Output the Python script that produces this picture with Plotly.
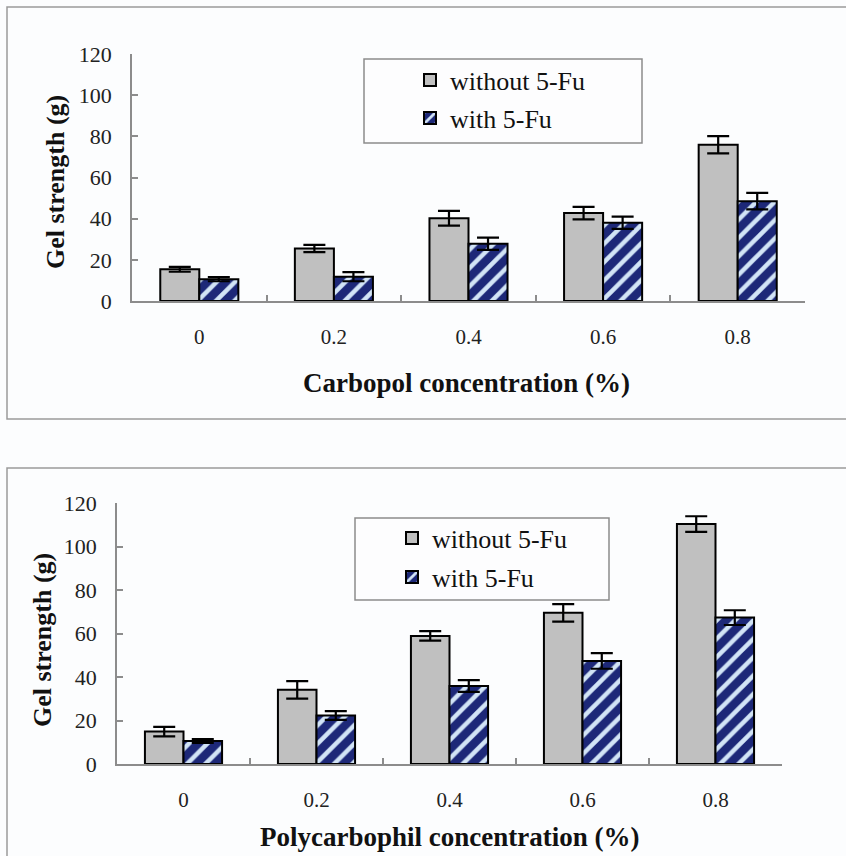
import plotly.graph_objects as go

W, H = 846, 856

categories = ["0", "0.2", "0.4", "0.6", "0.8"]
y_ticks = [0, 20, 40, 60, 80, 100, 120]

carbopol_without = [15.4, 25.5, 40.2, 42.7, 75.9]
carbopol_without_err = [1.2, 1.8, 3.6, 3.0, 4.2]
carbopol_with = [10.6, 11.8, 27.8, 38.0, 48.5]
carbopol_with_err = [1.0, 2.2, 3.0, 3.0, 4.0]

poly_without = [14.9, 34.1, 58.9, 69.5, 110.3]
poly_without_err = [2.2, 4.0, 2.2, 4.0, 3.6]
poly_with = [10.6, 22.3, 35.9, 47.4, 67.3]
poly_with_err = [0.9, 2.0, 2.7, 3.6, 3.4]

series_names = ["without 5-Fu", "with 5-Fu"]
x_titles = ["Carbopol concentration (%)", "Polycarbophil concentration (%)"]
y_title = "Gel strength (g)"

GREY = "#c0c0c0"
NAVY = "#1d2878"
STRIPE = "#d2e4f6"
AXIS = "#8c8c8c"
SERIF = "Liberation Serif, Times New Roman, serif"


def px_x(p):
    return p / W


def px_y(p):
    return 1 - p / H


fig = go.Figure()

panels = [
    dict(xa="x", ya="y", vals=(carbopol_without, carbopol_without_err, carbopol_with, carbopol_with_err),
         legends=("legend", "legend2")),
    dict(xa="x2", ya="y2", vals=(poly_without, poly_without_err, poly_with, poly_with_err),
         legends=("legend3", "legend4")),
]

for p in panels:
    w, we, h, he = p["vals"]
    fig.add_trace(go.Bar(
        x=categories, y=w, name=series_names[0], xaxis=p["xa"], yaxis=p["ya"],
        legend=p["legends"][0], showlegend=True,
        marker=dict(color=GREY, line=dict(color="black", width=2)),
        error_y=dict(type="data", array=we, color="black", thickness=2.2, width=11),
    ))
    fig.add_trace(go.Bar(
        x=categories, y=h, name=series_names[1], xaxis=p["xa"], yaxis=p["ya"],
        legend=p["legends"][1], showlegend=True,
        marker=dict(color=NAVY, line=dict(color="black", width=2),
                    pattern=dict(shape="/", fgcolor=STRIPE, bgcolor=NAVY, fgopacity=1,
                                 size=13, solidity=0.35)),
        error_y=dict(type="data", array=he, color="black", thickness=2.2, width=11),
    ))

common_x = dict(type="category", showline=True, linecolor=AXIS, linewidth=1.5,
                ticks="inside", tickson="boundaries", ticklen=6, tickcolor=AXIS, tickwidth=1.5,
                tickfont=dict(family=SERIF, size=21, color="#222"), showgrid=False, zeroline=False,
                ticklabelstandoff=16, fixedrange=True, automargin=False)
common_y = dict(range=[0, 120], tickvals=y_ticks, showline=True, linecolor=AXIS, linewidth=1.5,
                ticks="inside", ticklen=6, tickcolor=AXIS, tickwidth=1.5,
                tickfont=dict(family=SERIF, size=22, color="#222"), showgrid=False, zeroline=False,
                ticklabelstandoff=14, fixedrange=True, automargin=False)

fig.update_layout(
    width=W, height=H, autosize=False,
    margin=dict(l=0, r=0, t=0, b=0, pad=0, autoexpand=False),
    paper_bgcolor="#fcfdfe", plot_bgcolor="rgba(0,0,0,0)",
    showlegend=True,
    barmode="group", bargap=0.42, bargroupgap=0,
    xaxis=dict(domain=[px_x(132), px_x(805)], anchor="y", **common_x),
    yaxis=dict(domain=[px_y(301), px_y(54)], anchor="x", **common_y),
    xaxis2=dict(domain=[px_x(117), px_x(782)], anchor="y2", **common_x),
    yaxis2=dict(domain=[px_y(764), px_y(503)], anchor="x2", **common_y),
)

leg_common = dict(bgcolor="rgba(0,0,0,0)", borderwidth=0, xanchor="left", yanchor="middle",
                  font=dict(family=SERIF, size=26, color="#111"))
fig.update_layout(
    legend=dict(x=px_x(410), y=px_y(80), **leg_common),
    legend2=dict(x=px_x(410), y=px_y(118), **leg_common),
    legend3=dict(x=px_x(392), y=px_y(538), **leg_common),
    legend4=dict(x=px_x(392), y=px_y(577), **leg_common),
)

shapes = [
    # panel frames
    dict(type="rect", xref="paper", yref="paper", x0=px_x(7), x1=px_x(860), y0=px_y(419), y1=px_y(7),
         line=dict(color="#9a9a9a", width=1.5), layer="below"),
    dict(type="rect", xref="paper", yref="paper", x0=px_x(7), x1=px_x(860), y0=px_y(870), y1=px_y(468),
         line=dict(color="#9a9a9a", width=1.5), layer="below"),
    # legend boxes
    dict(type="rect", xref="paper", yref="paper", x0=px_x(364), x1=px_x(642), y0=px_y(143), y1=px_y(59),
         line=dict(color="#8c8c8c", width=1.5), fillcolor="#fdfdfe", layer="below"),
    dict(type="rect", xref="paper", yref="paper", x0=px_x(355), x1=px_x(609), y0=px_y(600), y1=px_y(518),
         line=dict(color="#8c8c8c", width=1.5), fillcolor="#fdfdfe", layer="below"),
]
fig.update_layout(shapes=shapes)

annotations = [
    dict(text="<b>" + x_titles[0] + "</b>", x=px_x(467), y=px_y(383), size=27),
    dict(text="<b>" + x_titles[1] + "</b>", x=px_x(449), y=px_y(837), size=27),
    dict(text="<b>" + y_title + "</b>", x=px_x(55), y=px_y(182), textangle=-90, size=26),
    dict(text="<b>" + y_title + "</b>", x=px_x(42), y=px_y(640), textangle=-90, size=26),
]
for a in annotations:
    sz = a.pop("size")
    a.update(xref="paper", yref="paper", showarrow=False, xanchor="center", yanchor="middle",
             font=dict(family=SERIF, size=sz, color="#111"))
fig.update_layout(annotations=annotations)

fig.write_html("out.html")
